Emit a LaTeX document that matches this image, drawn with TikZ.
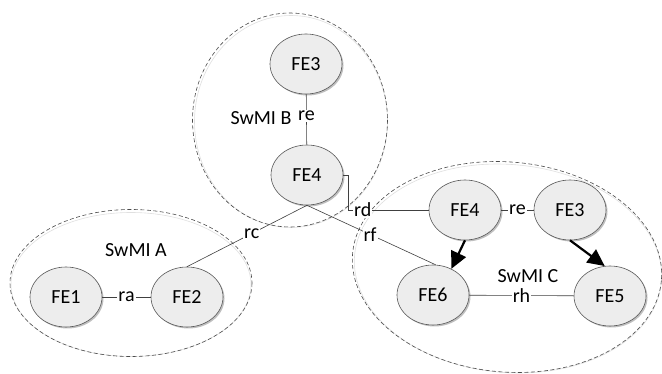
\documentclass[tikz,border=0pt]{standalone}
\usepackage{fontspec}
\setmainfont{Carlito}
\usetikzlibrary{arrows.meta,shapes.geometric,shadows}
\begin{document}
\begin{tikzpicture}[x=1pt,y=-1pt,
  fe/.style={ellipse,draw=black!65,line width=0.6pt,fill=black!7,minimum width=72pt,minimum height=60pt,inner sep=0pt,
    font=\fontsize{20}{22}\selectfont,
    drop shadow={shadow xshift=1.5pt,shadow yshift=-1.5pt,opacity=0.25,fill=black}},
  lbl/.style={fill=white,inner sep=1pt,font=\fontsize{20}{22}\selectfont},
  grp/.style={font=\fontsize{20}{22}\selectfont},
  conn/.style={draw=black!75,line width=0.6pt},
  zone/.style={draw=black!70,line width=0.6pt,dash pattern=on 4pt off 2.5pt},
  zoneshadow/.style={draw=black!12,line width=0.6pt},
  bigarrow/.style={draw=black,line width=2.2pt,-{Triangle[length=17pt,width=16pt]}}
]
\path[use as bounding box,fill=white] (0,0) rectangle (662,374);

% zones
\draw[zoneshadow] (131,284.5) ellipse [x radius=120,y radius=72];
\draw[zone] (131,283) ellipse [x radius=121,y radius=73.5];
\draw[zoneshadow] (291,121.5) ellipse [x radius=96.5,y radius=106];
\draw[zone] (290,120) ellipse [x radius=97.5,y radius=107];
\draw[zoneshadow,rotate around={-5:(508,268.5)}] (508,268.5) ellipse [x radius=154,y radius=104];
\draw[zone,rotate around={-5:(507,267)}] (507,267) ellipse [x radius=155,y radius=105];

% group labels
\node[grp] (la) at (136,250) {SwMI A};
\node[grp] (lb) at (261,118) {SwMI B};
\node[grp] (lc) at (528,276) {SwMI C};

% nodes
\node[fe] (b3) at (306,64) {FE3};
\node[fe] (b4) at (307,175) {FE4};
\node[fe] (a1) at (66,297) {FE1};
\node[fe] (a2) at (187,297) {FE2};
\node[fe] (c4) at (465,210) {FE4};
\node[fe] (c3) at (570,210) {FE3};
\node[fe] (c6) at (433,295) {FE6};
\node[fe] (c5) at (610,296) {FE5};

% connectors
\draw[conn] (b3) -- node[lbl,pos=0.43] (lre1) {re} (b4);
\draw[conn] (a1) -- node[lbl] (lra) {ra} (a2);
\draw[conn] (b4.south) -- node[lbl,pos=0.46] (lrc) {rc} (a2.north);
\draw[conn] (b4.south) -- node[lbl,pos=0.49] (lrf) {rf} (c6.85);
\draw[conn] (b4.east) -- ++(5,0) |- node[lbl,pos=0.59] (lrd) {rd} (c4.west);
\draw[conn] (c4) -- node[lbl] (lre2) {re} (c3);
\draw[conn] (c6) -- node[lbl] (lrh) {rh} (c5);
\draw[bigarrow] (c4.south) -- (c6.55);
\draw[bigarrow] (c3.south) -- (c5.100);
\end{tikzpicture}
\end{document}
